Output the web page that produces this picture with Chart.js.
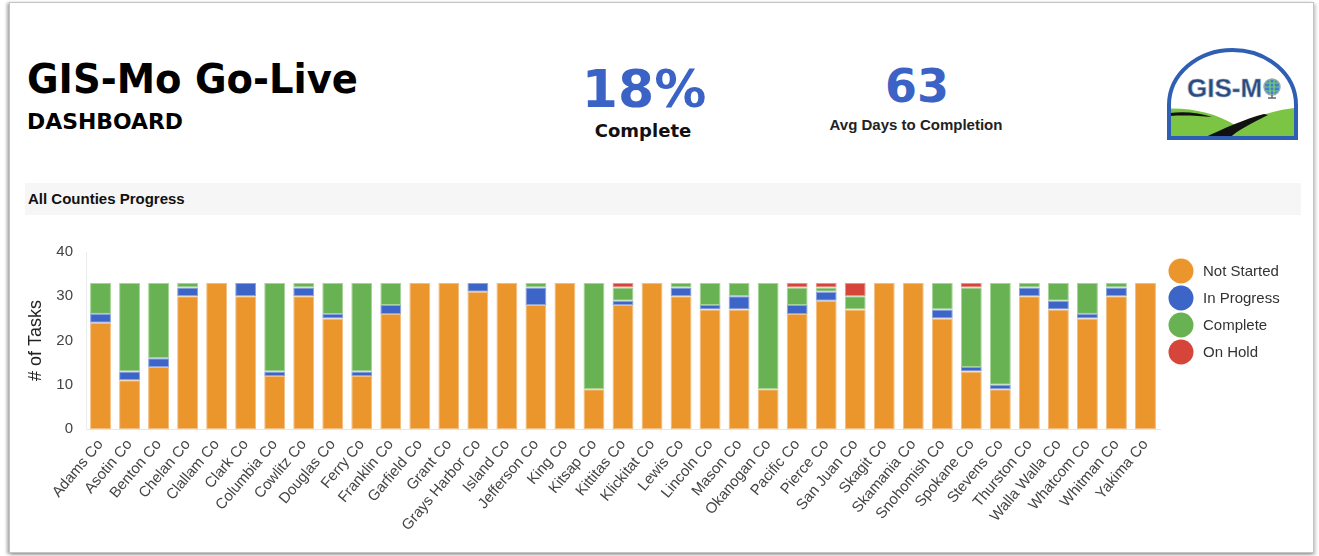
<!DOCTYPE html>
<html>
<head>
<meta charset="utf-8">
<script src="https://cdn.jsdelivr.net/npm/chart.js@4.4.1/dist/chart.umd.min.js"></script>
<style>
  html, body { margin: 0; padding: 0; background: #ffffff; }
  body { width: 1319px; height: 556px; position: relative; overflow: hidden; }
  .card { position: absolute; left: 9px; top: 2px; width: 1303px; height: 549px;
          border: 1px solid #c4c4c4; box-shadow: -2px 1px 3px rgba(0,0,0,0.35), 2px 2px 3px rgba(0,0,0,0.2); background: #fff; }
  .sect { position: absolute; left: 25px; top: 183px; width: 1276px; height: 32px; background: #f6f6f6; }
  #head { position: absolute; left: 0; top: 0; }
  #logo { position: absolute; left: 1160px; top: 45px; }
  #wrap { position: absolute; left: 0; top: 230px; width: 1319px; height: 320px; }
</style>
</head>
<body>
<div class="card"></div>
<div class="sect"></div>
<svg id="head" width="1319" height="230" viewBox="0 0 1319 230">
  <text x="27" y="93" font-family="DejaVu Sans, sans-serif" font-weight="bold" font-size="41" fill="#000" textLength="331" lengthAdjust="spacingAndGlyphs">GIS-Mo Go-Live</text>
  <text x="27" y="129" font-family="DejaVu Sans, sans-serif" font-weight="bold" font-size="22" fill="#000" textLength="156" lengthAdjust="spacingAndGlyphs">DASHBOARD</text>
  <text x="644" y="107" text-anchor="middle" font-family="DejaVu Sans, sans-serif" font-weight="bold" font-size="52" fill="#3b63c5">18%</text>
  <text x="643" y="137" text-anchor="middle" font-family="DejaVu Sans, sans-serif" font-weight="bold" font-size="18" fill="#111">Complete</text>
  <text x="917" y="102" text-anchor="middle" font-family="DejaVu Sans, sans-serif" font-weight="bold" font-size="46" fill="#3b63c5">63</text>
  <text x="916" y="130" text-anchor="middle" font-family="Liberation Sans, Arial, sans-serif" font-weight="bold" font-size="15" fill="#222">Avg Days to Completion</text>
  <text x="28" y="204" font-family="Liberation Sans, Arial, sans-serif" font-weight="bold" font-size="15" fill="#111">All Counties Progress</text>
</svg>
<svg id="logo" width="145" height="100" viewBox="0 0 145 100">
  <defs>
    <clipPath id="arch"><path d="M9 93 L9 60 A63.5 55 0 0 1 136 60 L136 93 Z"/></clipPath>
  </defs>
  <path d="M9 93 L9 60 A63.5 55 0 0 1 136 60 L136 93 Z" fill="#ffffff"/>
  <g clip-path="url(#arch)">
    <path d="M0 64 C30 62 55 68 75 80 C95 72 115 64 145 62 L145 100 L0 100 Z" fill="#7cc444"/>
    <path d="M44 93 C62 84 85 74 104 69 L108 70 C92 78 76 86 70 93 Z" fill="#111"/>
    <path d="M10 68 C25 66 40 68 52 72 C40 71 24 70 10 71 Z" fill="#111"/>
  </g>
  <path d="M9 93 L9 60 A63.5 55 0 0 1 136 60 L136 93 Z" fill="none" stroke="#2f5fb5" stroke-width="4"/>
  <text x="27" y="52" font-family="Liberation Sans, Arial, sans-serif" font-weight="bold" font-size="26" fill="#2a4a7c" stroke="#9fb3d0" stroke-width="0.6">GIS-M</text>
  <circle cx="112" cy="42" r="8" fill="#3f7fd0" stroke="#9aa" stroke-width="1.5"/>
  <path d="M106 38 H118 M105 42 H119 M106 46 H118 M110 35 V49 M114 35 V49" stroke="#7fd06a" stroke-width="1.2"/>
  <path d="M108 53 H116 M112 50 V53" stroke="#666" stroke-width="1.5"/>
</svg>
<div id="wrap"><canvas id="c"></canvas></div>
<script>
const counties = ["Adams Co","Asotin Co","Benton Co","Chelan Co","Clallam Co","Clark Co","Columbia Co","Cowlitz Co","Douglas Co","Ferry Co","Franklin Co","Garfield Co","Grant Co","Grays Harbor Co","Island Co","Jefferson Co","King Co","Kitsap Co","Kittitas Co","Klickitat Co","Lewis Co","Lincoln Co","Mason Co","Okanogan Co","Pacific Co","Pierce Co","San Juan Co","Skagit Co","Skamania Co","Snohomish Co","Spokane Co","Stevens Co","Thurston Co","Walla Walla Co","Whatcom Co","Whitman Co","Yakima Co"];
const notStarted = [24,11,14,30,33,30,12,30,25,12,26,33,33,31,33,28,33,9,28,33,30,27,27,9,26,29,27,33,33,25,13,9,30,27,25,30,33];
const inProgress = [2,2,2,2,0,3,1,2,1,1,2,0,0,2,0,4,0,0,1,0,2,1,3,0,2,2,0,0,0,2,1,1,2,2,1,2,0];
const complete   = [7,20,17,1,0,0,20,1,7,20,5,0,0,0,0,1,0,24,3,0,1,5,3,24,4,1,3,0,0,6,18,23,1,4,7,1,0];
const onHold     = [0,0,0,0,0,0,0,0,0,0,0,0,0,0,0,0,0,0,1,0,0,0,0,0,1,1,3,0,0,0,1,0,0,0,0,0,0];
const seriesNames = ["Not Started","In Progress","Complete","On Hold"];
const yTicks = [0,10,20,30,40];

const colors = ["#eb952d","#3d65c7","#69b254","#d6453a"];
const edges  = ["#f3bd7f","#8aa2de","#a6d497","#e8928a"];
const seriesData = [notStarted, inProgress, complete, onHold];

const legendPlugin = {
  id: 'sideLegend',
  afterDraw(chart) {
    const ctx = chart.ctx;
    const x0 = chart.chartArea.right;
    ctx.save();
    seriesNames.forEach((name, i) => {
      const cy = 41 + 27 * i;
      ctx.beginPath();
      ctx.fillStyle = colors[i];
      ctx.arc(x0 + 21, cy, 12.5, 0, Math.PI * 2);
      ctx.fill();
      ctx.fillStyle = '#333';
      ctx.font = '15px "Liberation Sans", Arial, sans-serif';
      ctx.textBaseline = 'middle';
      ctx.textAlign = 'left';
      ctx.fillText(name, x0 + 43, cy + 1);
    });
    ctx.restore();
  }
};

new Chart(document.getElementById('c'), {
  type: 'bar',
  data: {
    labels: counties,
    datasets: seriesData.map((d, i) => ({
      label: seriesNames[i],
      data: d,
      backgroundColor: colors[i],
      borderColor: edges[i],
      borderWidth: (c) => (c.raw > 0 ? 1 : 0),
      borderSkipped: false,
      barPercentage: 0.72,
      categoryPercentage: 1.0
    }))
  },
  options: {
    responsive: true,
    maintainAspectRatio: false,
    animation: false,
    layout: { padding: { left: 21, top: 21, right: 159, bottom: 0 } },
    plugins: { legend: { display: false }, tooltip: { enabled: false } },
    scales: {
      x: {
        stacked: true,
        grid: { display: false, drawTicks: false },
        border: { display: true, color: '#e6e6e6' },
        ticks: {
          autoSkip: false, minRotation: 50, maxRotation: 50, padding: 7,
          color: '#444', font: { family: '"Liberation Sans", Arial, sans-serif', size: 15 }
        },
        afterFit(s) { s.height = 121; }
      },
      y: {
        stacked: true,
        min: 0, max: 40,
        afterBuildTicks(s) { s.ticks = yTicks.map(v => ({ value: v })); },
        grid: { display: false, drawTicks: false },
        border: { display: true, color: '#ececec' },
        ticks: {
          padding: 13, color: '#444',
          font: { family: '"Liberation Sans", Arial, sans-serif', size: 15 }
        },
        title: {
          display: true, text: '# of Tasks', color: '#222',
          font: { family: '"Liberation Sans", Arial, sans-serif', size: 18 }
        },
        afterFit(s) { s.width = 65; }
      }
    }
  },
  plugins: [legendPlugin]
});
</script>
</body>
</html>
